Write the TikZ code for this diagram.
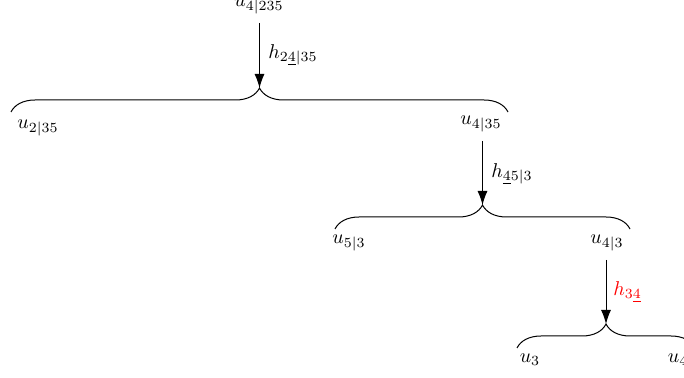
\documentclass[tikz,border=0pt]{standalone}
\usetikzlibrary{arrows.meta,decorations.pathreplacing,positioning,calc}

\begin{document}
\begin{tikzpicture}[
        x=0.5pt, y=-0.5pt,
        val/.style={inner sep=1pt, font=\normalsize},
        hlabel/.style={anchor=west, inner sep=1pt, font=\normalsize},
        pass/.style={-{Latex[length=7pt,width=5pt]}, line width=0.5pt},
        split/.style={decorate, decoration={brace, amplitude=12pt}, line width=0.5pt}
    ]
    \clip (0,0) rectangle (684,378);
    \useasboundingbox (0,0) rectangle (684,378);

    % Level 1
    \node[val] (u4235) at (259,6) {$u_{4|235}$};
    \coordinate (b1l) at (11,112);
    \coordinate (b1r) at (508,112);
    \coordinate (t1) at ($(b1l)!0.5!(b1r)+(0,-24)$);
    \coordinate (s1) at ($(t1 |- u4235.center)+(0,17)$);
    \draw[split] (b1l) -- (b1r);
    \draw[pass] (s1) -- (t1);
    \node[hlabel] (h1) at (266,55) {$h_{2\underline{4}|35}$};
    \node[val] (u235) at (38,128) {$u_{2|35}$};
    \node[val] (u435) at (481,124) {$u_{4|35}$};

    % Level 2
    \coordinate (b2l) at (335,229);
    \coordinate (b2r) at (630,229);
    \coordinate (t2) at ($(b2l)!0.5!(b2r)+(0,-24)$);
    \coordinate (s2) at ($(t2 |- u435.center)+(0,17)$);
    \draw[split] (b2l) -- (b2r);
    \draw[pass] (s2) -- (t2);
    \node[hlabel] (h2) at (489,174) {$h_{\underline{4}5|3}$};
    \node[val] (u53) at (349,243) {$u_{5|3}$};
    \node[val] (u43) at (607,243) {$u_{4|3}$};

    % Level 3
    \coordinate (b3l) at (517,348);
    \coordinate (b3r) at (695,348);
    \coordinate (t3) at ($(b3l)!0.5!(b3r)+(0,-24)$);
    \coordinate (s3) at ($(t3 |- u43.center)+(0,17)$);
    \draw[split] (b3l) -- (b3r);
    \draw[pass] (s3) -- (t3);
    \node[hlabel, text=red] (h3) at (611,292) {$h_{3\underline{4}}$};
    \node[val] (u3) at (530,360) {$u_{3}$};
    \node[val] (u4) at (678,360) {$u_{4}$};
\end{tikzpicture}
\end{document}
